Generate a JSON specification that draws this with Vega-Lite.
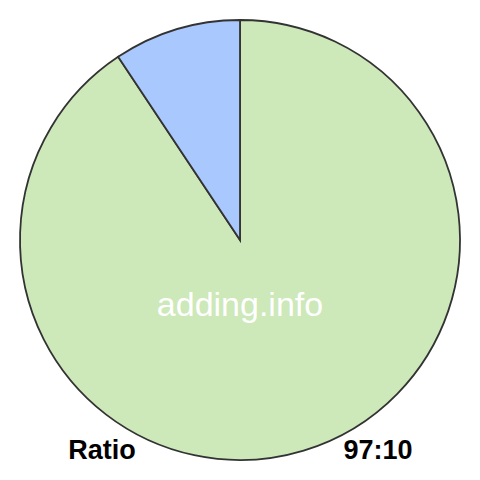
{
  "$schema": "https://vega.github.io/schema/vega-lite/v6.json",
  "width": 480,
  "height": 480,
  "autosize": {"type": "fit", "contains": "padding"},
  "padding": 0,
  "background": "white",
  "config": {"view": {"stroke": null}},
  "layer": [
    {
      "data": {
        "values": [
          {"part": "A", "value": 97},
          {"part": "B", "value": 10}
        ]
      },
      "mark": {
        "type": "arc",
        "outerRadius": 220,
        "stroke": "#333333",
        "strokeWidth": 1.8
      },
      "encoding": {
        "theta": {"field": "value", "type": "quantitative", "stack": true},
        "order": {"field": "value", "type": "quantitative", "sort": "descending"},
        "color": {
          "field": "part",
          "type": "nominal",
          "scale": {"domain": ["A", "B"], "range": ["#cde8b9", "#a9c8fe"]},
          "legend": null
        }
      }
    },
    {
      "data": {"values": [{"label": "adding.info"}]},
      "mark": {
        "type": "text",
        "font": "Liberation Sans",
        "fontSize": 34,
        "color": "white",
        "align": "center",
        "baseline": "alphabetic"
      },
      "encoding": {
        "text": {"field": "label"},
        "x": {"value": 240},
        "y": {"value": 316}
      }
    },
    {
      "data": {
        "values": [
          {"label": "Ratio"},
          {"label": "97:10"}
        ]
      },
      "mark": {
        "type": "text",
        "font": "Liberation Sans",
        "fontSize": 27,
        "fontWeight": "bold",
        "color": "black",
        "align": "center",
        "baseline": "alphabetic"
      },
      "encoding": {
        "text": {"field": "label"},
        "x": {
          "field": "label",
          "type": "nominal",
          "scale": {"type": "point", "domain": ["Ratio", "97:10"], "padding": 0.37},
          "axis": null
        },
        "y": {"value": 459}
      }
    }
  ]
}
